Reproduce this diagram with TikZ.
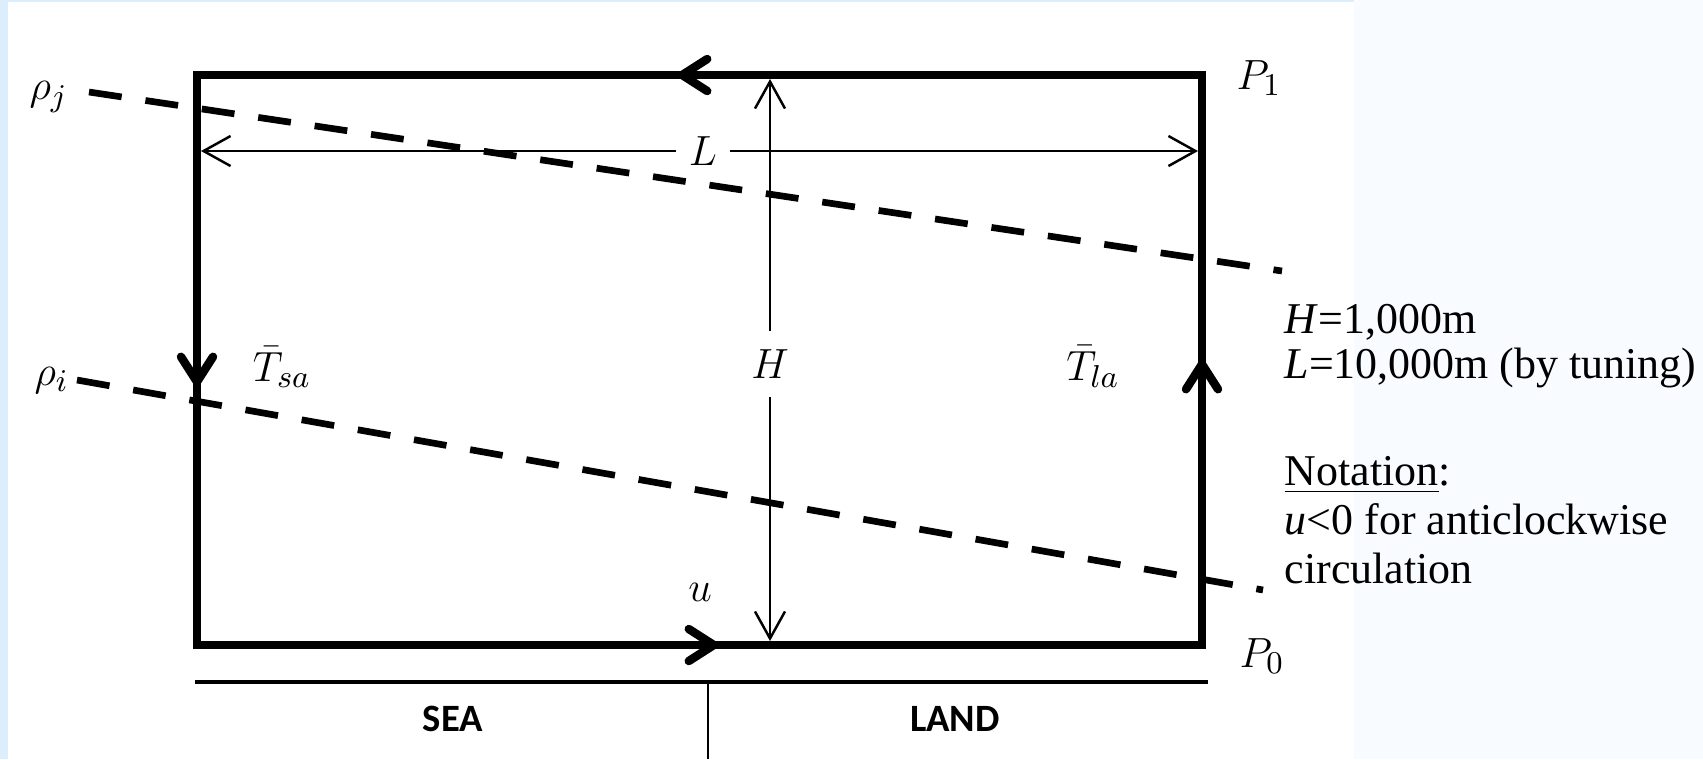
\documentclass[tikz,border=0pt]{standalone}
\usepackage{fontspec}
\setmainfont{Liberation Serif}
\newfontfamily\zonefont{Carlito}
\usepackage{amsmath}
\usepackage{tikz}
\usetikzlibrary{arrows.meta, positioning}
\DeclareMathSizes{11.5}{11.5}{9}{7}
\definecolor{edgeblue}{RGB}{220,238,252}
\definecolor{paleblue}{RGB}{248,251,255}
\tikzset{
  wall/.style={line width=2.4pt, color=black},
  flow/.style={-{Straight Barb[round, length=0.25cm, width=0.32cm]}},
  dim/.style={-{Straight Barb[length=0.27cm, width=0.30cm]}, line width=0.7pt},
  iso/.style={line width=1.9pt, dash pattern=on 0.33cm off 0.24cm},
  mlabel/.style={font=\fontsize{11.5}{13}\selectfont, inner sep=1pt},
  zone/.style={font=\zonefont\bfseries\fontsize{11}{13}\selectfont},
  note/.style={font=\fontsize{12.5}{14}\selectfont, anchor=base west, inner sep=0pt}
}

\begin{document}
\begin{tikzpicture}[x=0.01cm, y=-0.01cm]
  \useasboundingbox (0,0) rectangle (1703,759);
  \fill[edgeblue] (0,0) rectangle (8,759);
  \fill[edgeblue] (0,0) rectangle (1354,2);
  \fill[paleblue] (1354,0) rectangle (1703,759);

  % circulation box
  \coordinate (TL) at (197,75);
  \coordinate (TR) at (1202,75);
  \coordinate (BL) at (197,645);
  \coordinate (BR) at (1202,645);
  \draw[wall] (BL) rectangle (TR);

  \draw[wall, flow] (722,75) -- (678,75);
  \draw[wall, flow] (197,345) -- (197,386);
  \draw[wall, flow] (1202,400) -- (1202,360);
  \draw[wall, flow] (676,645) -- (718,645);

  % isopycnals
  \coordinate (jstart) at (89,92);
  \coordinate (jend) at (1282,271);
  \coordinate (istart) at (77,380);
  \coordinate (iend) at (1263,590);
  \node[mlabel, left=0.17cm of jstart, yshift=-0.05cm] (rhoj) {$\rho_j$};
  \node[mlabel, left=0.04cm of istart] (rhoi) {$\rho_i$};
  \draw[iso] (jstart) -- (jend);
  \draw[iso] (istart) -- (iend);

  % dimensions
  \coordinate (Lleft) at (201,151);
  \coordinate (Lright) at (1198,151);
  \coordinate (Htop) at (770,79);
  \coordinate (Hbot) at (770,641);
  \node[mlabel, inner xsep=3.5pt, inner ysep=1pt] (Llab) at (703,151) {$L$};
  \node[mlabel, inner xsep=1pt, inner ysep=5pt] (Hlab) at (770,364) {$H$};
  \draw[dim] (Llab) -- (Lleft);
  \draw[dim] (Llab) -- (Lright);
  \draw[dim] (Hlab) -- (Htop);
  \draw[dim] (Hlab) -- (Hbot);

  \node[mlabel] (Tsa) at (282,367) {$\bar{T}_{sa}$};
  \node[mlabel] (Tla) at (1093,367) {$\bar{T}_{la}$};
  \node[mlabel] (uvel) at (700,592) {$u$};
  \node[mlabel] (P1) at (1259,78) {$P_1$};
  \node[mlabel] (P0) at (1262,656) {$P_0$};

  % ground
  \coordinate (gl) at (195,682);
  \coordinate (gr) at (1208,682);
  \coordinate (gm) at (708,682);
  \coordinate (gb) at (708,759);
  \draw[line width=1.2pt] (gl) -- (gr);
  \draw[line width=0.6pt] (gm) -- (gb);
  \node[zone] (sea) at (453,719) {SEA};
  \node[zone] (land) at (955,719) {LAND};

  % parameters
  \node[note] (hval) at (1284,333) {\textit{H}=1,000m};
  \node[note] (lval) at (1284,378) {\textit{L}=10,000m (by tuning)};
  \node[note] (nota) at (1284,485) {\underline{Notation}:};
  \node[note] (sign) at (1284,534) {\textit{u}<0 for anticlockwise};
  \node[note] (circ) at (1284,583) {circulation};
\end{tikzpicture}
\end{document}
